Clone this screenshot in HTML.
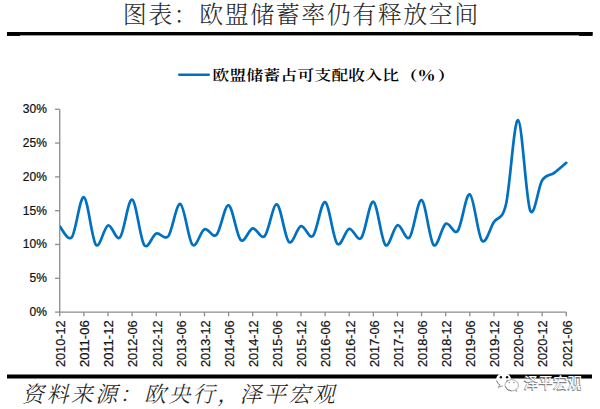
<!DOCTYPE html>
<html><head><meta charset="utf-8"><title>欧盟储蓄率</title>
<style>
html,body{margin:0;padding:0;background:#fff;}
body{width:600px;height:409px;overflow:hidden;position:relative;}
svg{display:block;position:absolute;left:0;top:0;}
</style></head><body>
<svg width="600" height="409" viewBox="0 0 600 409">
<rect x="7" y="32" width="585.5" height="3.4" fill="#000"/>
<rect x="7" y="32" width="13" height="3.9" fill="#000"/>
<rect x="579" y="32" width="13.5" height="3.9" fill="#000"/>
<rect x="7" y="374.5" width="585" height="4" fill="#000"/>
<g stroke="#8c8c8c" stroke-width="1.3" fill="none">
<path d="M59.75,109.25 V312.1"/>
<path d="M55.05,312.10 H59.75"/>
<path d="M55.05,278.29 H59.75"/>
<path d="M55.05,244.48 H59.75"/>
<path d="M55.05,210.68 H59.75"/>
<path d="M55.05,176.87 H59.75"/>
<path d="M55.05,143.06 H59.75"/>
<path d="M55.05,109.25 H59.75"/>
<path d="M59.75,312.1 H566.3"/>
<path d="M59.75,312.1 V316.3"/>
<path d="M83.87,312.1 V316.3"/>
<path d="M107.99,312.1 V316.3"/>
<path d="M132.11,312.1 V316.3"/>
<path d="M156.24,312.1 V316.3"/>
<path d="M180.36,312.1 V316.3"/>
<path d="M204.48,312.1 V316.3"/>
<path d="M228.60,312.1 V316.3"/>
<path d="M252.72,312.1 V316.3"/>
<path d="M276.84,312.1 V316.3"/>
<path d="M300.96,312.1 V316.3"/>
<path d="M325.09,312.1 V316.3"/>
<path d="M349.21,312.1 V316.3"/>
<path d="M373.33,312.1 V316.3"/>
<path d="M397.45,312.1 V316.3"/>
<path d="M421.57,312.1 V316.3"/>
<path d="M445.69,312.1 V316.3"/>
<path d="M469.81,312.1 V316.3"/>
<path d="M493.94,312.1 V316.3"/>
<path d="M518.06,312.1 V316.3"/>
<path d="M542.18,312.1 V316.3"/>
<path d="M566.30,312.1 V316.3"/>
</g>
<g font-family="&quot;Liberation Sans&quot;, sans-serif" font-size="12" fill="#111" stroke="#111" stroke-width="0.22" text-anchor="end">
<text x="46.9" y="316.10">0%</text>
<text x="46.9" y="282.29">5%</text>
<text x="46.9" y="248.48">10%</text>
<text x="46.9" y="214.68">15%</text>
<text x="46.9" y="180.87">20%</text>
<text x="46.9" y="147.06">25%</text>
<text x="46.9" y="113.25">30%</text>
</g>
<g font-family="&quot;Liberation Sans&quot;, sans-serif" font-size="12" fill="#111" stroke="#111" stroke-width="0.22" text-anchor="end">
<text transform="translate(65.05,320.4) rotate(-90)" textLength="46.7" lengthAdjust="spacingAndGlyphs">2010-12</text>
<text transform="translate(89.17,320.4) rotate(-90)" textLength="46.7" lengthAdjust="spacingAndGlyphs">2011-06</text>
<text transform="translate(113.29,320.4) rotate(-90)" textLength="46.7" lengthAdjust="spacingAndGlyphs">2011-12</text>
<text transform="translate(137.41,320.4) rotate(-90)" textLength="46.7" lengthAdjust="spacingAndGlyphs">2012-06</text>
<text transform="translate(161.54,320.4) rotate(-90)" textLength="46.7" lengthAdjust="spacingAndGlyphs">2012-12</text>
<text transform="translate(185.66,320.4) rotate(-90)" textLength="46.7" lengthAdjust="spacingAndGlyphs">2013-06</text>
<text transform="translate(209.78,320.4) rotate(-90)" textLength="46.7" lengthAdjust="spacingAndGlyphs">2013-12</text>
<text transform="translate(233.90,320.4) rotate(-90)" textLength="46.7" lengthAdjust="spacingAndGlyphs">2014-06</text>
<text transform="translate(258.02,320.4) rotate(-90)" textLength="46.7" lengthAdjust="spacingAndGlyphs">2014-12</text>
<text transform="translate(282.14,320.4) rotate(-90)" textLength="46.7" lengthAdjust="spacingAndGlyphs">2015-06</text>
<text transform="translate(306.26,320.4) rotate(-90)" textLength="46.7" lengthAdjust="spacingAndGlyphs">2015-12</text>
<text transform="translate(330.39,320.4) rotate(-90)" textLength="46.7" lengthAdjust="spacingAndGlyphs">2016-06</text>
<text transform="translate(354.51,320.4) rotate(-90)" textLength="46.7" lengthAdjust="spacingAndGlyphs">2016-12</text>
<text transform="translate(378.63,320.4) rotate(-90)" textLength="46.7" lengthAdjust="spacingAndGlyphs">2017-06</text>
<text transform="translate(402.75,320.4) rotate(-90)" textLength="46.7" lengthAdjust="spacingAndGlyphs">2017-12</text>
<text transform="translate(426.87,320.4) rotate(-90)" textLength="46.7" lengthAdjust="spacingAndGlyphs">2018-06</text>
<text transform="translate(450.99,320.4) rotate(-90)" textLength="46.7" lengthAdjust="spacingAndGlyphs">2018-12</text>
<text transform="translate(475.11,320.4) rotate(-90)" textLength="46.7" lengthAdjust="spacingAndGlyphs">2019-06</text>
<text transform="translate(499.24,320.4) rotate(-90)" textLength="46.7" lengthAdjust="spacingAndGlyphs">2019-12</text>
<text transform="translate(523.36,320.4) rotate(-90)" textLength="46.7" lengthAdjust="spacingAndGlyphs">2020-06</text>
<text transform="translate(547.48,320.4) rotate(-90)" textLength="46.7" lengthAdjust="spacingAndGlyphs">2020-12</text>
<text transform="translate(571.60,320.4) rotate(-90)" textLength="46.7" lengthAdjust="spacingAndGlyphs">2021-06</text>
</g>
<clipPath id="pc"><rect x="59.9" y="90" width="520" height="230"/></clipPath>
<path clip-path="url(#pc)" d="M59.75,226.36 C61.76,228.16 67.79,242.01 71.81,237.16 C75.83,232.30 79.85,195.96 83.87,197.23 C87.89,198.50 91.91,240.06 95.93,244.76 C99.95,249.47 103.97,226.67 107.99,225.45 C112.01,224.22 116.03,241.74 120.05,237.42 C124.07,233.10 128.09,198.27 132.11,199.53 C136.13,200.79 140.15,239.32 144.18,244.98 C148.20,250.64 152.22,234.91 156.24,233.46 C160.26,232.00 164.28,241.17 168.30,236.25 C172.32,231.33 176.34,202.53 180.36,203.94 C184.38,205.35 188.40,240.47 192.42,244.69 C196.44,248.91 200.46,230.93 204.48,229.26 C208.50,227.60 212.52,238.70 216.54,234.72 C220.56,230.75 224.58,204.54 228.60,205.42 C232.62,206.30 236.64,236.17 240.66,240.00 C244.68,243.84 248.70,229.08 252.72,228.42 C256.74,227.77 260.76,240.07 264.78,236.07 C268.80,232.07 272.82,203.44 276.84,204.42 C280.86,205.40 284.88,238.33 288.90,241.95 C292.92,245.57 296.94,227.15 300.96,226.14 C304.98,225.14 309.00,239.94 313.02,235.92 C317.05,231.90 321.07,200.76 325.09,202.04 C329.11,203.32 333.13,239.12 337.15,243.60 C341.17,248.07 345.19,229.83 349.21,228.89 C353.23,227.96 357.25,242.49 361.27,237.96 C365.29,233.44 369.31,200.55 373.33,201.73 C377.35,202.90 381.37,241.09 385.39,245.00 C389.41,248.91 393.43,226.44 397.45,225.20 C401.47,223.95 405.49,241.70 409.51,237.51 C413.53,233.31 417.55,198.79 421.57,200.03 C425.59,201.27 429.61,240.99 433.63,244.94 C437.65,248.89 441.67,226.10 445.69,223.75 C449.71,221.40 453.73,235.74 457.75,230.83 C461.77,225.93 465.79,192.69 469.81,194.31 C473.83,195.93 477.85,235.95 481.88,240.57 C485.90,245.19 489.92,228.07 493.94,222.02 C497.96,215.97 501.98,221.26 506.00,204.26 C510.02,187.27 514.04,119.04 518.06,120.04 C522.08,121.04 526.10,200.21 530.12,210.26 C534.14,220.31 538.16,186.56 542.18,180.33 C546.20,174.09 550.22,175.76 554.24,172.85 C558.26,169.93 564.29,164.50 566.30,162.83" fill="none" stroke="#0070C0" stroke-width="2.7" stroke-linejoin="round" stroke-linecap="round"/>
<path d="M179.1,74.75 H208.9" stroke="#0070C0" stroke-width="2.3" stroke-linecap="round"/>
<text transform="translate(212.5,79.6) scale(1.15,0.95)" font-family="&quot;Liberation Serif&quot;, &quot;Noto Serif CJK SC&quot;, serif" font-weight="600" font-size="14.5" letter-spacing="0.28" fill="#000">欧盟储蓄占可支配收入比<tspan dx="1.3" font-weight="900">（</tspan><tspan dx="0.4" font-weight="900">％</tspan><tspan dx="2.2" font-weight="900">）</tspan></text>
<text x="122.7" y="23" font-family="&quot;Liberation Serif&quot;, &quot;Noto Serif CJK SC&quot;, serif" font-weight="300" font-size="24" letter-spacing="1.5" fill="#2a2a2a">图表：欧盟储蓄率仍有释放空间</text>
<text x="22" y="402" font-family="&quot;Liberation Serif&quot;, &quot;Noto Serif CJK SC&quot;, serif" font-weight="300" font-style="italic" font-size="22" letter-spacing="2.4" fill="#222">资料来源：欧央行，<tspan dx="-2">泽平宏观</tspan></text>
<g>
<ellipse cx="503.6" cy="379.3" rx="7.4" ry="6.4" fill="#fff"/>
<path d="M496.6,380.6 A7.4,6.4 0 0 0 500.2,385.2" fill="none" stroke="#666" stroke-width="0.9"/>
<path d="M499.6,385.4 L498.2,387.4 L502.6,385.8" fill="none" stroke="#777" stroke-width="0.8"/>
<circle cx="500.9" cy="377.2" r="1.2" fill="#111"/>
<circle cx="507.1" cy="377.2" r="1.2" fill="#111"/>
<ellipse cx="511.7" cy="385.3" rx="6.7" ry="5.6" fill="#fff" stroke="#999" stroke-width="0.8"/>
<path d="M506.2,381.3 A6.7,5.6 0 0 1 507.8,380.6" fill="none" stroke="#555" stroke-width="0.9"/>
<path d="M505.4,386.5 A6.7,5.6 0 0 0 511.4,390.9" fill="none" stroke="#777" stroke-width="0.9"/>
<path d="M514.5,390.4 L517,391.6 L516.2,389.2" fill="none" stroke="#999" stroke-width="0.7"/>
<circle cx="509.2" cy="382.5" r="0.8" fill="#999"/>
<circle cx="513.9" cy="382.5" r="0.8" fill="#999"/>
</g>
<g font-family="&quot;Liberation Sans&quot;, &quot;Noto Sans CJK SC&quot;, sans-serif" font-size="14.6" font-weight="400"><text x="523.3" y="388.5" fill="#5a5a5a" stroke="#8a8a8a" stroke-width="0.5" opacity="0.9">泽平宏观</text><text x="524.0" y="387.7" fill="#fff">泽平宏观</text></g>
</svg>
</body></html>
